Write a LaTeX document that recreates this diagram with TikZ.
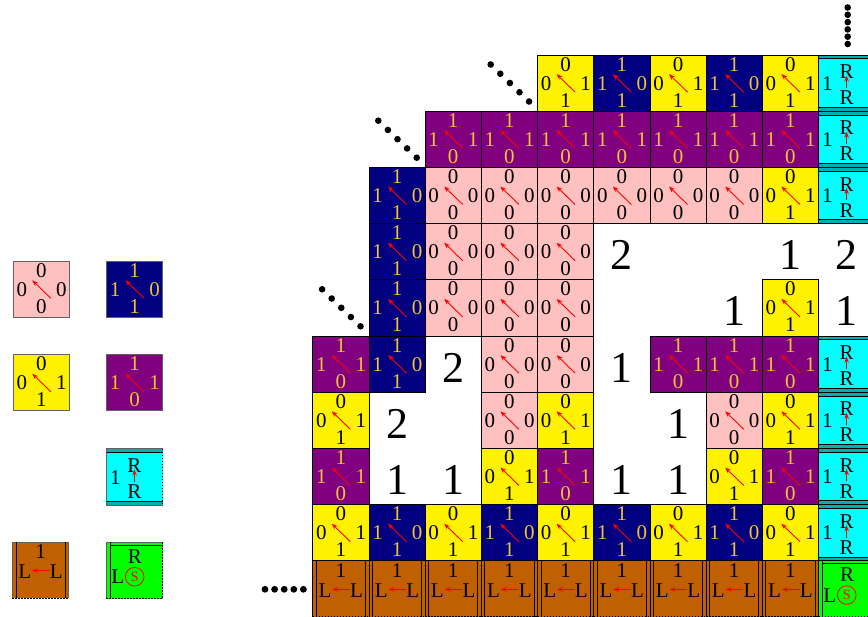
\documentclass[tikz,border=0pt]{standalone}
\usepackage{fontspec}
\setmainfont{Liberation Serif}
\usetikzlibrary{arrows.meta}
\definecolor{tpink}{RGB}{255,192,192}
\definecolor{tnavy}{RGB}{0,0,128}
\definecolor{tpurple}{RGB}{128,0,128}
\definecolor{tgold}{RGB}{238,196,48}
\definecolor{tbrown}{RGB}{192,96,0}
\definecolor{tcyan}{RGB}{0,255,255}
\definecolor{tcyband}{RGB}{0,176,176}
\definecolor{tgreen}{RGB}{0,255,0}
\tikzset{
  cell/.style={draw=black, line width=0.8pt, minimum width=56.2pt, minimum height=56.2pt, inner sep=0pt, outer sep=0pt},
  tedge/.style={draw=black, line width=0.8pt},
  tinner/.style={draw=black, line width=0.8pt},
  lab/.style={font=\fontsize{21}{21}\selectfont, inner sep=0pt, anchor=base},
  big/.style={font=\fontsize{44}{44}\selectfont, inner sep=0pt, anchor=base},
  tarrow/.style={red, line width=0.9pt, -{Stealth[length=6pt,width=4.5pt]}},
  dotedge/.style={draw=black, line width=1.4pt, dash pattern=on 1.4pt off 1.6pt},
  blackdot/.style={fill=black}
}
% generic four-label tile: name, x, y, fill, text colour, top, left, right, bottom
\newcommand{\qtile}[9]{%
  \begin{scope}[shift={(#2,#3)}]
    \node[cell,fill=#4] (#1) at (0,0) {};
    \node[lab,text=#5] (#1-t) at (0,-11.9) {#6};
    \node[lab,text=#5] (#1-l) at (-19.5,7.1) {#7};
    \node[lab,text=#5] (#1-r) at (20,7.1) {#8};
    \node[lab,text=#5] (#1-b) at (0,24.1) {#9};
    \coordinate (#1-a0) at (9.5,9);
    \coordinate (#1-a1) at (-9,-9);
    \draw[tarrow] (#1-a0) -- (#1-a1);
  \end{scope}}
\newcommand{\Ptile}[3]{\qtile{#1}{#2}{#3}{tpink}{black}{0}{0}{0}{0}}
\newcommand{\Btile}[3]{\qtile{#1}{#2}{#3}{tnavy}{tgold}{1}{1}{0}{1}}
\newcommand{\Ytile}[3]{\qtile{#1}{#2}{#3}{yellow}{black}{0}{0}{1}{1}}
\newcommand{\Utile}[3]{\qtile{#1}{#2}{#3}{tpurple}{tgold}{1}{1}{1}{0}}
\newcommand{\Ctile}[3]{%
  \begin{scope}[shift={(#2,#3)}]
    \node[cell,fill=tcyan,draw=none] (#1) at (0,0) {};
    \fill[tcyband] (-28.1,-28.1) rectangle (28.1,-24.3);
    \fill[tcyband] (-28.1,28.1) rectangle (28.1,24.3);
    \draw[tedge] (-28.1,-28.1) -- (28.1,-28.1);
    \draw[tinner] (-28.1,-24.3) -- (28.1,-24.3);
    \draw[tinner] (-28.1,24.3) -- (28.1,24.3);
    \draw[tedge] (-28.1,28.1) -- (28.1,28.1);
    \draw[tedge] (-28.1,-28.1) -- (-28.1,28.1);
    \draw[dotedge] (28.1,-28.1) -- (28.1,28.1);
    \node[lab] (#1-l) at (-19.2,7.1) {1};
    \node[lab] (#1-t) at (0,-4.3) {R};
    \node[lab] (#1-b) at (0,21.6) {R};
    \coordinate (#1-a0) at (0,5);
    \coordinate (#1-a1) at (0,-7.5);
    \draw[tarrow] (#1-a0) -- (#1-a1);
  \end{scope}}
\newcommand{\Wtile}[3]{%
  \begin{scope}[shift={(#2,#3)}]
    \node[cell,fill=tbrown,draw=none] (#1) at (0,0) {};
    \draw[tedge] (-28.1,-28.1) -- (28.1,-28.1);
    \draw[tedge] (-28.1,-28.1) -- (-28.1,28.1);
    \draw[tedge] (28.1,-28.1) -- (28.1,28.1);
    \draw[tinner] (-24.6,-28.1) -- (-24.6,28.1);
    \draw[tinner] (24.6,-28.1) -- (24.6,28.1);
    \draw[dotedge] (-28.1,28.1) -- (28.1,28.1);
    \node[lab] (#1-t) at (0,-11.9) {1};
    \node[lab] (#1-l) at (-15.8,8.5) {L};
    \node[lab] (#1-r) at (15.8,8.5) {L};
    \coordinate (#1-a0) at (9.2,0.5);
    \coordinate (#1-a1) at (-8.5,0.5);
    \draw[tarrow] (#1-a0) -- (#1-a1);
  \end{scope}}
\newcommand{\Gtile}[3]{%
  \begin{scope}[shift={(#2,#3)}]
    \node[cell,fill=tgreen,draw=none] (#1) at (0,0) {};
    \draw[tedge] (-28.1,-28.1) -- (28.1,-28.1);
    \draw[tedge] (-28.1,-28.1) -- (-28.1,28.1);
    \draw[tinner] (-24.6,-25.4) -- (28.1,-25.4);
    \draw[tinner] (-24.6,-28.1) -- (-24.6,28.1);
    \draw[dotedge] (28.1,-28.1) -- (28.1,28.1);
    \draw[dotedge] (-28.1,28.1) -- (28.1,28.1);
    \node[lab] (#1-t) at (0.5,-7.3) {R};
    \node[lab] (#1-l) at (-16.7,13.2) {L};
    \node[draw=red, circle, line width=0.8pt, minimum size=18.6pt, inner sep=0pt, text=red,
          font=\fontsize{14}{14}\selectfont] (#1-s) at (0.2,6.2) {S};
  \end{scope}}
% grid placement: type, column, row
\newcommand{\At}[3]{\csname #1tile\endcsname{#1r#3c#2}{340.8+56.2*#2}{83.1+56.2*#3}}
\newcommand{\Num}[3]{\node[big] (n#1-#2) at ({340.8+56.2*#1},{101.1+56.2*#2}) {#3};}
\begin{document}
\begin{tikzpicture}[x=1pt,y=-1pt]
\useasboundingbox (0,0) rectangle (868,617);
\fill[white] (0,0) rectangle (868,617);
\clip (0,0) rectangle (868,617);
% legend
\begin{scope}[cell/.append style={draw=black!62}, tedge/.append style={draw=black!62}]
  \Ptile{lp}{41.3}{289.3}
  \Btile{lb}{134.5}{289.3}
  \Ytile{ly}{41.3}{382.7}
  \Utile{lu}{134.5}{382.7}
  \Ctile{lc}{134.5}{477}
  \Wtile{lw}{40.5}{570.2}
  \Gtile{lg}{134.5}{570.5}
\end{scope}
% row 0
\At{Y}{4}{0}\At{B}{5}{0}\At{Y}{6}{0}\At{B}{7}{0}\At{Y}{8}{0}\At{C}{9}{0}
% row 1
\At{U}{2}{1}\At{U}{3}{1}\At{U}{4}{1}\At{U}{5}{1}\At{U}{6}{1}\At{U}{7}{1}\At{U}{8}{1}\At{C}{9}{1}
% row 2
\At{B}{1}{2}\At{P}{2}{2}\At{P}{3}{2}\At{P}{4}{2}\At{P}{5}{2}\At{P}{6}{2}\At{P}{7}{2}\At{Y}{8}{2}\At{C}{9}{2}
% row 3
\At{B}{1}{3}\At{P}{2}{3}\At{P}{3}{3}\At{P}{4}{3}
% row 4
\At{B}{1}{4}\At{P}{2}{4}\At{P}{3}{4}\At{P}{4}{4}\At{Y}{8}{4}
% row 5
\At{U}{0}{5}\At{B}{1}{5}\At{P}{3}{5}\At{P}{4}{5}\At{U}{6}{5}\At{U}{7}{5}\At{U}{8}{5}\At{C}{9}{5}
% row 6
\At{Y}{0}{6}\At{P}{3}{6}\At{Y}{4}{6}\At{P}{7}{6}\At{Y}{8}{6}\At{C}{9}{6}
% row 7
\At{U}{0}{7}\At{Y}{3}{7}\At{U}{4}{7}\At{Y}{7}{7}\At{U}{8}{7}\At{C}{9}{7}
% row 8
\At{Y}{0}{8}\At{B}{1}{8}\At{Y}{2}{8}\At{B}{3}{8}\At{Y}{4}{8}\At{B}{5}{8}\At{Y}{6}{8}\At{B}{7}{8}\At{Y}{8}{8}\At{C}{9}{8}
% row 9
\At{W}{0}{9}\At{W}{1}{9}\At{W}{2}{9}\At{W}{3}{9}\At{W}{4}{9}\At{W}{5}{9}\At{W}{6}{9}\At{W}{7}{9}\At{W}{8}{9}\At{G}{9}{9}
% big numbers
\Num{5}{3}{2}\Num{8}{3}{1}\Num{9}{3}{2}
\Num{7}{4}{1}\Num{9}{4}{1}
\Num{2}{5}{2}\Num{5}{5}{1}
\Num{1}{6}{2}\Num{6}{6}{1}
\Num{1}{7}{1}\Num{2}{7}{1}\Num{5}{7}{1}\Num{6}{7}{1}
% ellipsis dots
\foreach \i in {0,...,4} {
  \fill[blackdot] ({490.7+9.6*\i},{64.5+9.25*\i}) circle (3.3);
  \fill[blackdot] ({378.3+9.6*\i},{120.7+9.25*\i}) circle (3.3);
  \fill[blackdot] ({322.1+9.6*\i},{289.3+9.25*\i}) circle (3.3);
  \fill[blackdot] ({265+9.6*\i},589.3) circle (3.4);
}
\foreach \i in {0,...,5} {
  \fill[blackdot] (847.7,{7.5+7.3*\i}) circle (3.3);
}
\end{tikzpicture}
\end{document}
